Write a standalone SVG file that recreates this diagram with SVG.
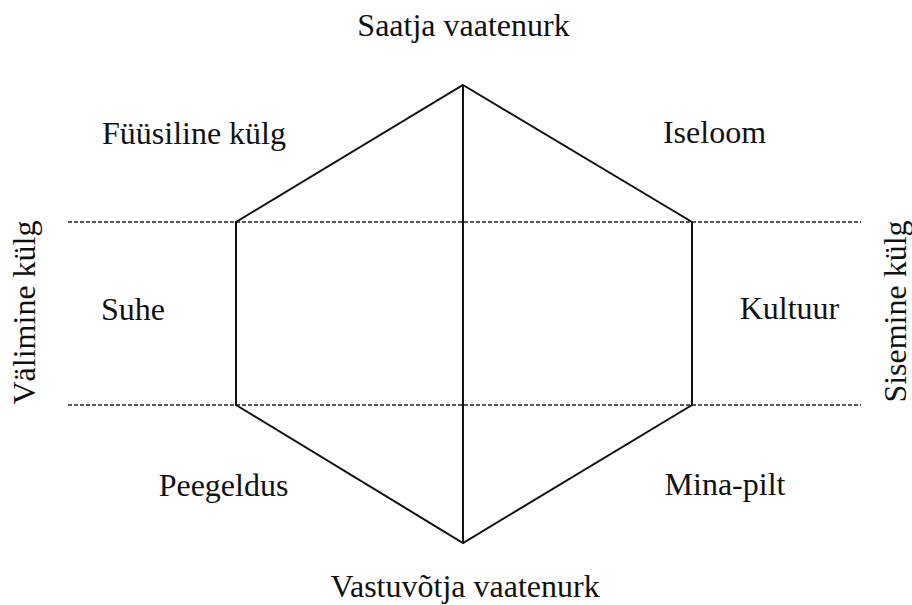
<svg xmlns="http://www.w3.org/2000/svg" width="912" height="605" viewBox="0 0 912 605">
  <style>
    .t { font-family: "Liberation Serif", "Times New Roman", serif; font-size: 32px; fill: #111; text-anchor: middle; }
    .edge { stroke: #111; stroke-width: 2; fill: none; stroke-linejoin: miter; }
    .dash { stroke: #222; stroke-width: 1.6; stroke-dasharray: 4 2; fill: none; }
  </style>
  <rect width="912" height="605" fill="#fff"/>
  <g id="connectors">
    <line class="dash" x1="68" y1="222" x2="861" y2="222"/>
    <line class="dash" x1="68" y1="405" x2="861" y2="405"/>
    <polygon class="edge" points="463,85 692,222 692,405 463,543 236,405 236,222"/>
    <line class="edge" x1="463" y1="85" x2="463" y2="543"/>
  </g>
  <g id="saatja"><text class="t" x="463.5" y="36">Saatja vaatenurk</text></g>
  <g id="fuusiline"><text class="t" x="194" y="144">Füüsiline külg</text></g>
  <g id="iseloom"><text class="t" x="714.5" y="143">Iseloom</text></g>
  <g id="suhe"><text class="t" x="133" y="320">Suhe</text></g>
  <g id="kultuur"><text class="t" x="789.5" y="319">Kultuur</text></g>
  <g id="peegeldus"><text class="t" x="223.5" y="496">Peegeldus</text></g>
  <g id="minapilt"><text class="t" x="725" y="495">Mina-pilt</text></g>
  <g id="vastuvotja"><text class="t" x="465" y="597">Vastuvõtja vaatenurk</text></g>
  <g id="valimine"><text class="t" transform="translate(35,312.5) rotate(-90)">Välimine külg</text></g>
  <g id="sisemine"><text class="t" transform="translate(906,311.5) rotate(-90)">Sisemine külg</text></g>
</svg>
